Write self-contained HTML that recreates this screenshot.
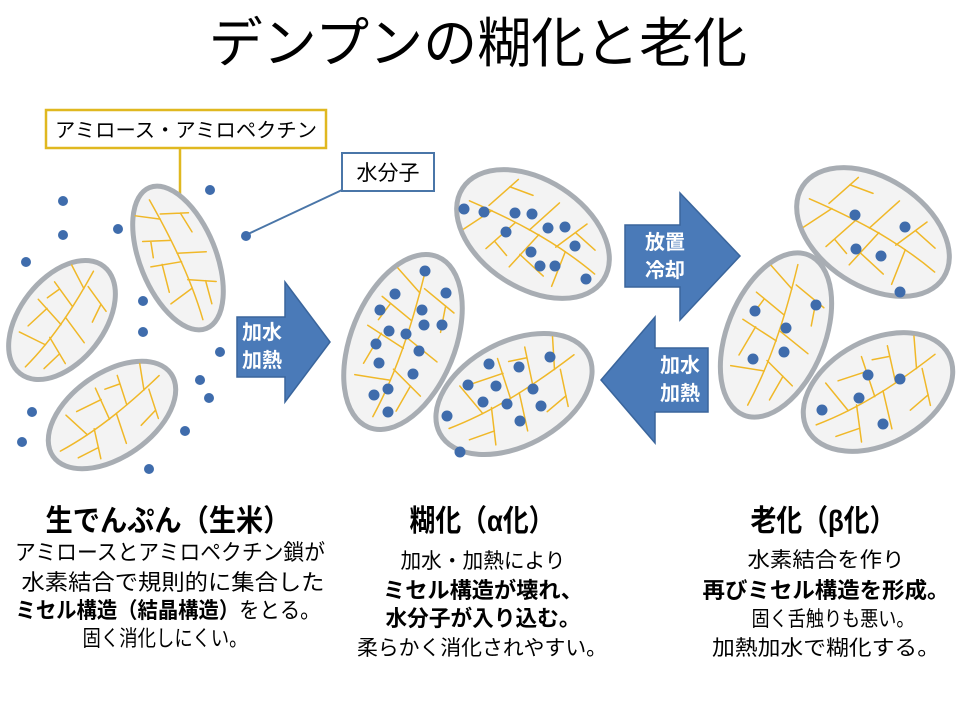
<!DOCTYPE html>
<html><head><meta charset="utf-8"><style>
html,body{margin:0;padding:0;background:#fff;}
svg{display:block;font-family:"Liberation Sans","Noto Sans CJK JP",sans-serif;}
</style></head><body>
<svg width="960" height="720" viewBox="0 0 960 720" xmlns="http://www.w3.org/2000/svg">
<defs>
<g id="veins" fill="none" stroke="#f0b828" stroke-width="1.5" stroke-linecap="round">
<path vector-effect="non-scaling-stroke" d="M-5,-68 C0,-30 5,20 0,70"/>
<path vector-effect="non-scaling-stroke" d="M-2,-45 L-25,-58"/>
<path vector-effect="non-scaling-stroke" d="M0,-20 L-28,-30 M-20,-27 L-24,-10"/>
<path vector-effect="non-scaling-stroke" d="M2,5 L-30,-2 M-18,0 L-22,30"/>
<path vector-effect="non-scaling-stroke" d="M2,35 L-25,42"/>
<path vector-effect="non-scaling-stroke" d="M0,-50 L28,-40 M20,-43 L24,-20"/>
<path vector-effect="non-scaling-stroke" d="M1,-5 L30,5"/>
<path vector-effect="non-scaling-stroke" d="M1,25 L28,38 M18,33 L15,58"/>
</g>
<g id="grain">
<ellipse vector-effect="non-scaling-stroke" cx="0" cy="0" rx="40" ry="80" fill="#f3f3f3" stroke="#a8adb3" stroke-width="5"/>
<use href="#veins"/>
</g>
</defs>

<text x="478" y="62" font-size="54" text-anchor="middle" fill="#000">デンプンの糊化と老化</text>

<!-- labels -->
<rect x="46" y="110" width="280" height="38" fill="#fff" stroke="#e0b820" stroke-width="2.5"/>
<text x="186" y="137" font-size="20" text-anchor="middle" textLength="262" lengthAdjust="spacingAndGlyphs">アミロース・アミロペクチン</text>
<line x1="180" y1="148" x2="180" y2="225" stroke="#e0b820" stroke-width="2.5"/>
<rect x="342" y="153" width="92" height="38" fill="#fff" stroke="#4a76a8" stroke-width="2"/>
<text x="388" y="180" font-size="21" text-anchor="middle">水分子</text>
<line x1="342" y1="190" x2="248" y2="234" stroke="#4a76a8" stroke-width="2"/>

<!-- grains -->
<g transform="translate(178,258) rotate(-22) scale(0.95,0.95)"><use href="#grain"/></g>
<g transform="translate(62,320) rotate(38) scale(1.05,0.85)"><use href="#grain"/></g>
<g transform="translate(112,415) rotate(55) scale(1.05,0.9)"><use href="#grain"/></g>

<g transform="translate(403,342) rotate(22) scale(1.3,1.15)"><use href="#grain"/></g>
<g transform="translate(533,234) rotate(-57) scale(1.35,1.05)"><use href="#grain"/></g>
<g transform="translate(514,394) rotate(62) scale(1.3,1.05)"><use href="#grain"/></g>

<g transform="translate(873,232) rotate(-57) scale(1.35,1.05)"><use href="#grain"/></g>
<g transform="translate(776,335) rotate(22) scale(1.22,1.08)"><use href="#grain"/></g>
<g transform="translate(878,392) rotate(62) scale(1.3,1.0)"><use href="#grain"/></g>

<!-- water dots -->
<g fill="#3f6cac">
<circle cx="63" cy="201" r="5"/><circle cx="63" cy="235" r="5"/><circle cx="118" cy="229" r="5"/>
<circle cx="210" cy="190" r="5"/><circle cx="246" cy="236" r="5"/><circle cx="26" cy="262" r="5"/>
<circle cx="143" cy="301" r="5"/><circle cx="143" cy="332" r="5"/><circle cx="220" cy="352" r="5"/>
<circle cx="200" cy="380" r="5"/><circle cx="209" cy="398" r="5"/><circle cx="32" cy="412" r="5"/>
<circle cx="22" cy="442" r="5"/><circle cx="185" cy="431" r="5"/><circle cx="149" cy="469" r="5"/>
<circle cx="425" cy="271" r="5.5"/><circle cx="395" cy="294" r="5.5"/><circle cx="446" cy="293" r="5.5"/>
<circle cx="380" cy="310" r="5.5"/><circle cx="422" cy="310" r="5.5"/><circle cx="389" cy="331" r="5.5"/>
<circle cx="406" cy="334" r="5.5"/><circle cx="424" cy="325" r="5.5"/><circle cx="442" cy="325" r="5.5"/>
<circle cx="376" cy="344" r="5.5"/><circle cx="419" cy="351" r="5.5"/><circle cx="379" cy="363" r="5.5"/>
<circle cx="413" cy="374" r="5.5"/><circle cx="388" cy="389" r="5.5"/><circle cx="374" cy="395" r="5.5"/><circle cx="388" cy="412" r="5.5"/>
<circle cx="464" cy="209" r="5.5"/><circle cx="484" cy="212" r="5.5"/><circle cx="515" cy="213" r="5.5"/>
<circle cx="532" cy="214" r="5.5"/><circle cx="506" cy="232" r="5.5"/><circle cx="548" cy="228" r="5.5"/>
<circle cx="565" cy="227" r="5.5"/><circle cx="531" cy="252" r="5.5"/><circle cx="575" cy="246" r="5.5"/>
<circle cx="540" cy="266" r="5.5"/><circle cx="555" cy="266" r="5.5"/><circle cx="586" cy="279" r="5.5"/>
<circle cx="550" cy="357" r="5.5"/><circle cx="489" cy="364" r="5.5"/><circle cx="519" cy="367" r="5.5"/>
<circle cx="468" cy="385" r="5.5"/><circle cx="496" cy="386" r="5.5"/><circle cx="533" cy="389" r="5.5"/>
<circle cx="483" cy="402" r="5.5"/><circle cx="507" cy="404" r="5.5"/><circle cx="541" cy="406" r="5.5"/>
<circle cx="447" cy="416" r="5.5"/><circle cx="520" cy="421" r="5.5"/><circle cx="460" cy="452" r="5.5"/>
<circle cx="855" cy="215" r="5.5"/><circle cx="905" cy="227" r="5.5"/><circle cx="856" cy="249" r="5.5"/>
<circle cx="881" cy="256" r="5.5"/><circle cx="900" cy="292" r="5.5"/>
<circle cx="755" cy="311" r="5.5"/><circle cx="816" cy="305" r="5.5"/><circle cx="786" cy="328" r="5.5"/>
<circle cx="784" cy="352" r="5.5"/><circle cx="753" cy="359" r="5.5"/>
<circle cx="868" cy="375" r="5.5"/><circle cx="900" cy="379" r="5.5"/><circle cx="859" cy="398" r="5.5"/>
<circle cx="822" cy="410" r="5.5"/><circle cx="883" cy="424" r="5.5"/>
</g>

<!-- arrows -->
<g fill="#4a7ab8" stroke="#3a659c" stroke-width="1.5">
<polygon points="237,317 285,317 285,282 330,342 285,402 285,377 237,377"/>
<polygon points="625,225 680,225 680,193 740,256 680,320 680,287 625,287"/>
<polygon points="708,348 655,348 655,317 601,380 655,443 655,412 708,412"/>
</g>
<g fill="#fff" font-size="20" font-weight="bold" text-anchor="middle">
<text x="262" y="339">加水</text><text x="262" y="367">加熱</text>
<text x="665" y="249">放置</text><text x="665" y="277">冷却</text>
<text x="680" y="372">加水</text><text x="680" y="400">加熱</text>
</g>

<!-- bottom text -->
<g text-anchor="middle" fill="#000">
<text x="168" y="531" font-size="30" font-weight="bold" textLength="245" lengthAdjust="spacingAndGlyphs">生でんぷん（生米）</text>
<text x="170" y="560" font-size="22" textLength="310" lengthAdjust="spacingAndGlyphs">アミロースとアミロペクチン鎖が</text>
<text x="173" y="590" font-size="22" textLength="303" lengthAdjust="spacingAndGlyphs">水素結合で規則的に集合した</text>
<text x="168" y="618" font-size="22" textLength="305" lengthAdjust="spacingAndGlyphs"><tspan font-weight="bold">ミセル構造（結晶構造）</tspan>をとる。</text>
<text x="165" y="646" font-size="22" textLength="165" lengthAdjust="spacingAndGlyphs">固く消化しにくい。</text>

<text x="482" y="531" font-size="30" font-weight="bold" textLength="145" lengthAdjust="spacingAndGlyphs">糊化（α化）</text>
<text x="483" y="568" font-size="21" textLength="165" lengthAdjust="spacingAndGlyphs">加水・加熱により</text>
<text x="483" y="598" font-size="22" font-weight="bold" textLength="200" lengthAdjust="spacingAndGlyphs">ミセル構造が壊れ、</text>
<text x="483" y="626" font-size="22" font-weight="bold" textLength="195" lengthAdjust="spacingAndGlyphs">水分子が入り込む。</text>
<text x="482" y="655" font-size="21" textLength="250" lengthAdjust="spacingAndGlyphs">柔らかく消化されやすい。</text>

<text x="823" y="531" font-size="30" font-weight="bold" textLength="145" lengthAdjust="spacingAndGlyphs">老化（β化）</text>
<text x="826" y="567" font-size="21" textLength="157" lengthAdjust="spacingAndGlyphs">水素結合を作り</text>
<text x="826" y="598" font-size="22" font-weight="bold" textLength="247" lengthAdjust="spacingAndGlyphs">再びミセル構造を形成。</text>
<text x="833" y="626" font-size="21" textLength="163" lengthAdjust="spacingAndGlyphs">固く舌触りも悪い。</text>
<text x="826" y="655" font-size="21" textLength="228" lengthAdjust="spacingAndGlyphs">加熱加水で糊化する。</text>
</g>
</svg>
</body></html>
